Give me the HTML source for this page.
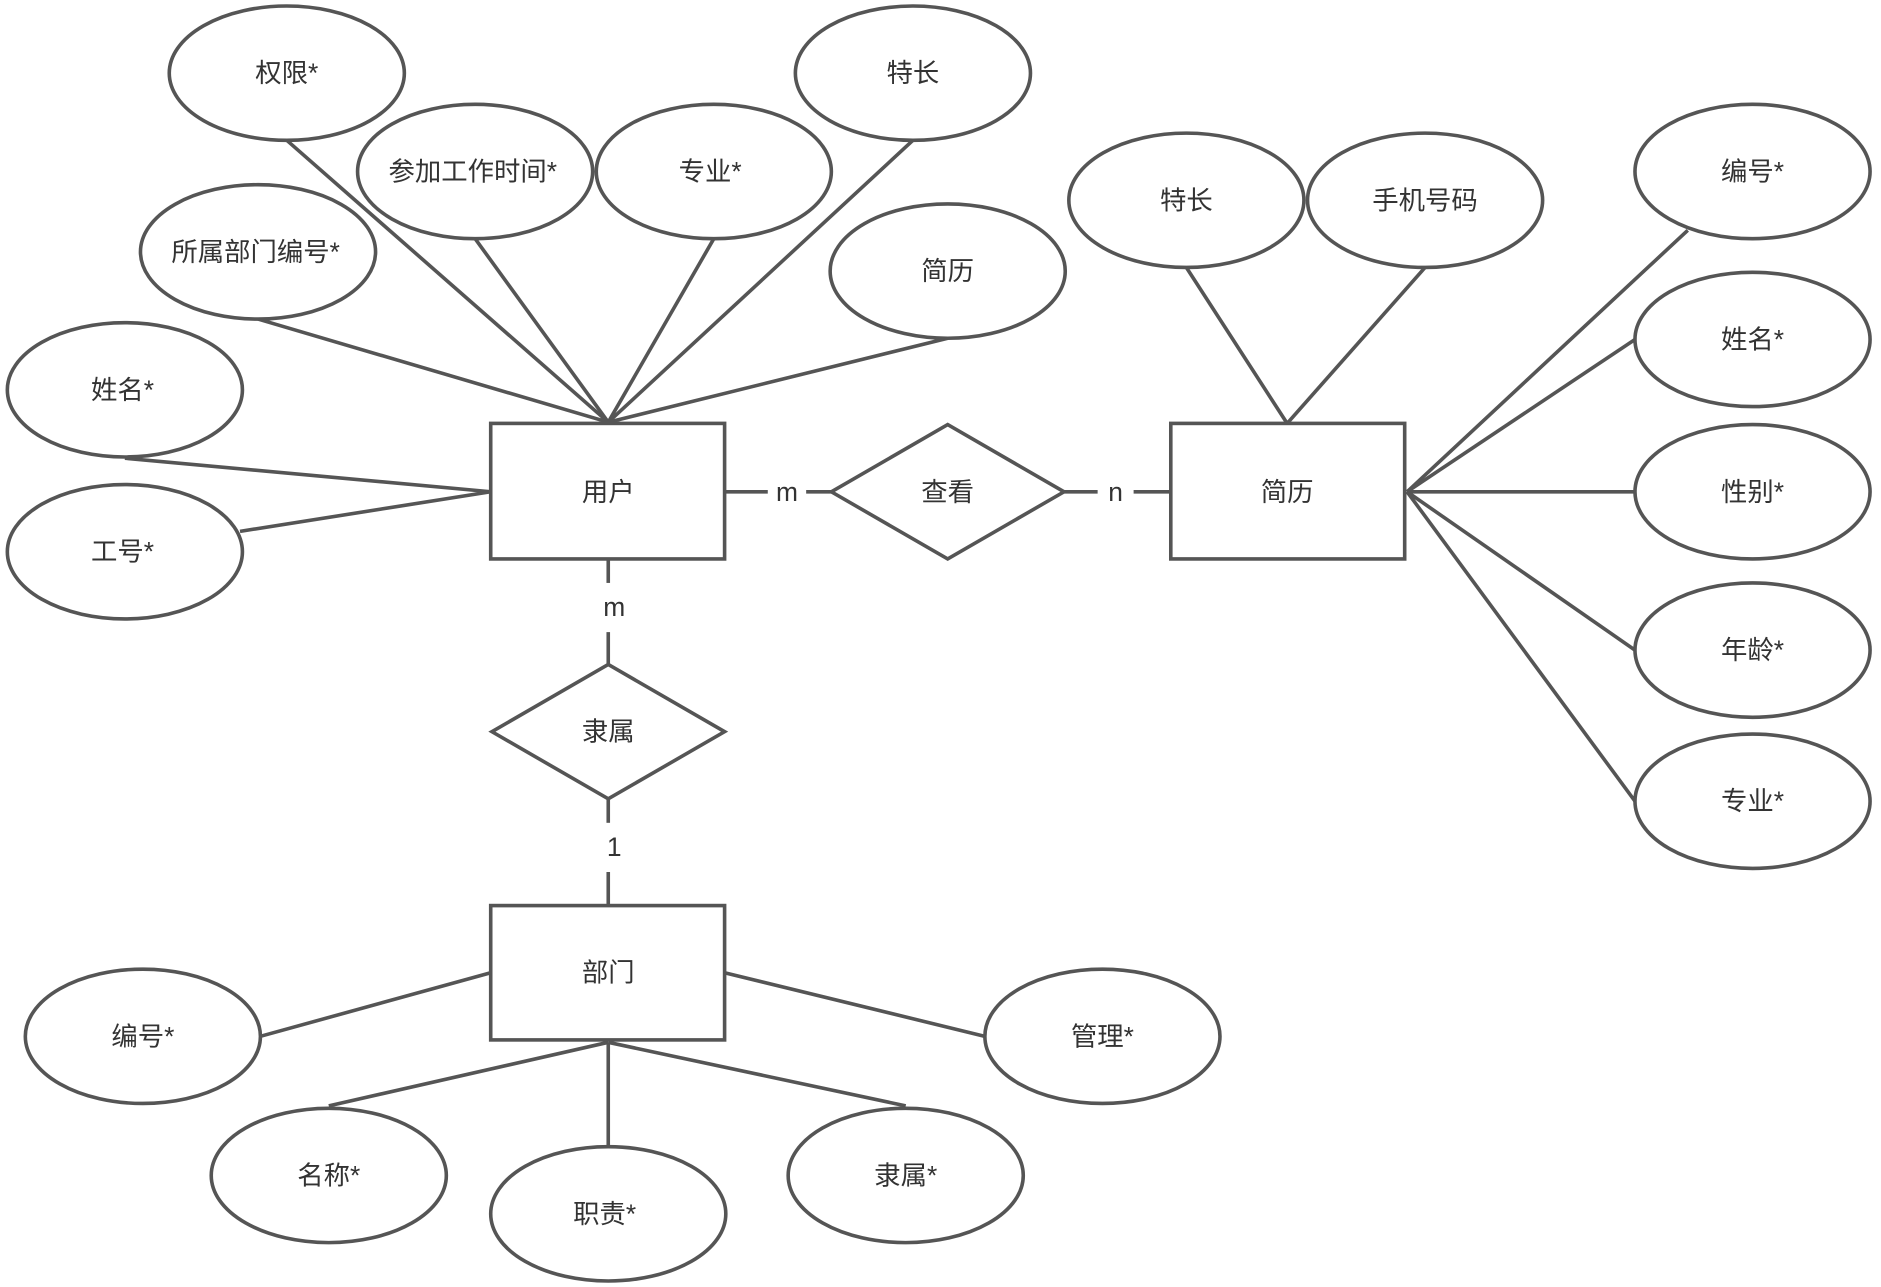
<!DOCTYPE html>
<html><head><meta charset="utf-8"><style>
html,body{margin:0;padding:0;background:#fff;}
svg{display:block}
text{font-family:"Liberation Sans","Noto Sans CJK SC",sans-serif;font-size:22px;fill:#333;text-anchor:middle;dominant-baseline:central}
</style></head><body>
<svg width="1881" height="1287" viewBox="0 0 1568 1073" xmlns="http://www.w3.org/2000/svg">
<g stroke="#555" stroke-width="3" fill="none">
<!-- user lines -->
<line x1="507" y1="352" x2="239" y2="117"/>
<line x1="507" y1="352" x2="396" y2="199"/>
<line x1="507" y1="352" x2="595" y2="199"/>
<line x1="507" y1="352" x2="761" y2="117"/>
<line x1="507" y1="352" x2="215" y2="266"/>
<line x1="507" y1="352" x2="790" y2="282"/>
<line x1="409" y1="410" x2="104" y2="382"/>
<line x1="409" y1="410" x2="200" y2="443"/>
<line x1="604" y1="410" x2="640" y2="410"/>
<line x1="672" y1="410" x2="693" y2="410"/>
<line x1="887" y1="410" x2="915" y2="410"/>
<line x1="945" y1="410" x2="976" y2="410"/>
<line x1="507" y1="466" x2="507" y2="486"/>
<line x1="507" y1="527" x2="507" y2="554"/>
<line x1="507" y1="666" x2="507" y2="686"/>
<line x1="507" y1="727" x2="507" y2="755"/>
<!-- resume lines -->
<line x1="1073" y1="353" x2="989" y2="223"/>
<line x1="1073" y1="353" x2="1188" y2="223"/>
<line x1="1173" y1="410" x2="1407" y2="192"/>
<line x1="1173" y1="410" x2="1363" y2="283"/>
<line x1="1173" y1="410" x2="1363" y2="410"/>
<line x1="1173" y1="410" x2="1363" y2="542"/>
<line x1="1173" y1="410" x2="1363" y2="668"/>
<!-- dept lines -->
<line x1="409" y1="811" x2="217" y2="864"/>
<line x1="604" y1="811" x2="821" y2="864"/>
<line x1="507" y1="869" x2="274" y2="922"/>
<line x1="507" y1="869" x2="507" y2="956"/>
<line x1="507" y1="869" x2="755" y2="922"/>
</g>
<g stroke="#555" stroke-width="3" fill="#fff">
<rect x="409" y="353" width="195" height="113"/>
<rect x="976" y="353" width="195" height="113"/>
<rect x="409" y="755" width="195" height="112"/>
<polygon points="693,410 790,354 887,410 790,466"/>
<polygon points="410,610 507,554 604,610 507,666"/>
<ellipse cx="239" cy="61" rx="98" ry="56"/>
<ellipse cx="396" cy="143" rx="98" ry="56"/>
<ellipse cx="595" cy="143" rx="98" ry="56"/>
<ellipse cx="761" cy="61" rx="98" ry="56"/>
<ellipse cx="215" cy="210" rx="98" ry="56"/>
<ellipse cx="790" cy="226" rx="98" ry="56"/>
<ellipse cx="104" cy="325" rx="98" ry="56"/>
<ellipse cx="104" cy="460" rx="98" ry="56"/>
<ellipse cx="989" cy="167" rx="98" ry="56"/>
<ellipse cx="1188" cy="167" rx="98" ry="56"/>
<ellipse cx="1461" cy="143" rx="98" ry="56"/>
<ellipse cx="1461" cy="283" rx="98" ry="56"/>
<ellipse cx="1461" cy="410" rx="98" ry="56"/>
<ellipse cx="1461" cy="542" rx="98" ry="56"/>
<ellipse cx="1461" cy="668" rx="98" ry="56"/>
<ellipse cx="119" cy="864" rx="98" ry="56"/>
<ellipse cx="274" cy="980" rx="98" ry="56"/>
<ellipse cx="507" cy="1012" rx="98" ry="56"/>
<ellipse cx="755" cy="980" rx="98" ry="56"/>
<ellipse cx="919" cy="864" rx="98" ry="56"/>
</g>
<text x="239" y="61">权限*</text>
<text x="394" y="143">参加工作时间*</text>
<text x="592" y="143">专业*</text>
<text x="761" y="61">特长</text>
<text x="213" y="210">所属部门编号*</text>
<text x="790" y="226">简历</text>
<text x="102" y="325">姓名*</text>
<text x="102" y="460">工号*</text>
<text x="507" y="410">用户</text>
<text x="790" y="410">查看</text>
<text x="1073" y="410">简历</text>
<text x="656" y="410">m</text>
<text x="930" y="410">n</text>
<text x="512" y="506">m</text>
<text x="512" y="706">1</text>
<text x="507" y="610">隶属</text>
<text x="507" y="811">部门</text>
<text x="989" y="167">特长</text>
<text x="1188" y="167">手机号码</text>
<text x="1461" y="143">编号*</text>
<text x="1461" y="283">姓名*</text>
<text x="1461" y="410">性别*</text>
<text x="1461" y="542">年龄*</text>
<text x="1461" y="668">专业*</text>
<text x="119" y="864">编号*</text>
<text x="274" y="980">名称*</text>
<text x="504" y="1012">职责*</text>
<text x="755" y="980">隶属*</text>
<text x="919" y="864">管理*</text>
</svg>
</body></html>
